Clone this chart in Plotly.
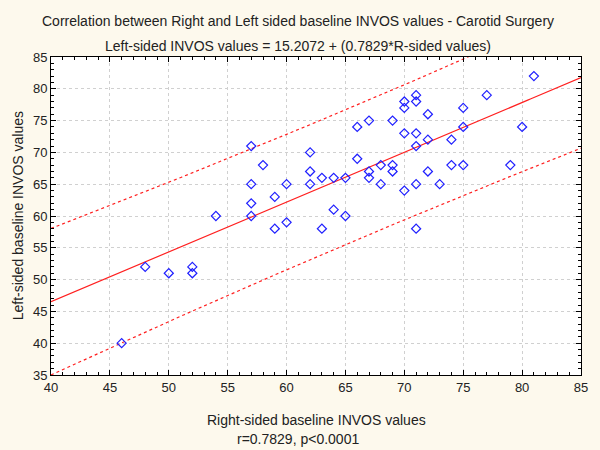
import numpy as np
import plotly.graph_objects as go

# Right-sided (x) and left-sided (y) baseline INVOS values
right_vals = [46, 48, 50, 52, 52, 54, 57, 58, 57, 60, 59, 57, 57, 59, 60,
              62, 62, 62, 63, 64, 65, 64, 65, 63, 66, 67, 69, 66, 67, 67,
              68, 69, 69, 68, 70, 70, 71, 71, 72, 70, 71, 71, 72, 72, 70,
              71, 71, 77, 75, 75, 74, 80, 74, 75, 79, 73, 81]
left_vals = [40, 52, 51, 52, 51, 60, 71, 68, 65, 65, 63, 62, 60, 58, 59,
             70, 67, 65, 66, 66, 66, 61, 60, 58, 74, 75, 75, 69, 67, 66,
             68, 68, 67, 65, 78, 77, 79, 78, 76, 73, 73, 71, 72, 67, 64,
             65, 58, 79, 77, 74, 72, 74, 68, 68, 68, 65, 82]

intercept = 15.2072
slope = 0.7829
x_range = [40, 85]
y_range = [35, 85]
x_ticks = [40, 45, 50, 55, 60, 65, 70, 75, 80, 85]
y_ticks = [35, 40, 45, 50, 55, 60, 65, 70, 75, 80, 85]

title_text = "Correlation between Right and Left sided baseline INVOS values - Carotid Surgery"
subtitle_text = "Left-sided INVOS values = 15.2072 + (0.7829*R-sided values)"
x_title = "Right-sided baseline INVOS values"
y_title = "Left-sided baseline INVOS values"
stat_text = "r=0.7829, p<0.0001"

xr = np.array(right_vals, dtype=float)
yl = np.array(left_vals, dtype=float)
n = len(xr)
xs = np.linspace(x_range[0], x_range[1], 200)
fit = intercept + slope * xs
resid = yl - (intercept + slope * xr)
s = np.sqrt(np.sum(resid ** 2) / (n - 2))
sxx = np.sum((xr - xr.mean()) ** 2)
t_val = 2.004
hw = t_val * s * np.sqrt(1 + 1 / n + (xs - xr.mean()) ** 2 / sxx)

red = "#FF2020"
fig = go.Figure()
fig.add_trace(go.Scatter(x=xs, y=fit + hw, mode="lines",
                         line=dict(color=red, width=1.2, dash="3px,3px"), hoverinfo="skip"))
fig.add_trace(go.Scatter(x=xs, y=fit - hw, mode="lines",
                         line=dict(color=red, width=1.2, dash="3px,3px"), hoverinfo="skip"))
fig.add_trace(go.Scatter(x=xs, y=fit, mode="lines",
                         line=dict(color=red, width=1.2), hoverinfo="skip"))
fig.add_trace(go.Scatter(x=xr, y=yl, mode="markers",
                         marker=dict(symbol="diamond-open", size=7, color="#2020FF",
                                     line=dict(width=1.2, color="#2020FF"))))

L, R, T, B = 51, 14, 57, 75
W, H = 600, 450
ph = H - T - B
pw = W - L - R

def py(p):
    return (H - B - p) / ph

def px(p):
    return (p - L) / pw

axis_common = dict(showline=True, linecolor="#000000", linewidth=1, mirror="allticks",
                   ticks="inside", ticklen=5, tickcolor="#000000",
                   showgrid=True, gridcolor="#D0D0D0", griddash="dot", gridwidth=1,
                   zeroline=False, tickfont=dict(family="Liberation Sans, Arial", size=13, color="#222222"))

fig.update_xaxes(range=x_range, tickvals=x_ticks, **axis_common,
                 minor=dict(dtick=1, ticks="inside", ticklen=3, tickcolor="#000000", showgrid=False))
fig.update_yaxes(range=y_range, tickvals=y_ticks, **axis_common,
                 minor=dict(dtick=1, ticks="inside", ticklen=3, tickcolor="#000000", showgrid=False))

font = dict(family="Liberation Sans, Arial", size=14, color="#222222")
annots = [
    dict(text=title_text, x=px(300), y=py(21), xref="paper", yref="paper", showarrow=False,
         xanchor="center", yanchor="middle", font=font),
    dict(text=subtitle_text, x=px(300), y=py(46), xref="paper", yref="paper", showarrow=False,
         xanchor="center", yanchor="middle", font=font),
    dict(text=x_title, x=0.5, y=py(420), xref="paper", yref="paper", showarrow=False,
         xanchor="center", yanchor="middle", font=font),
    dict(text=stat_text, x=px(300), y=py(439), xref="paper", yref="paper", showarrow=False,
         xanchor="center", yanchor="middle", font=font),
    dict(text=y_title, x=px(18), y=0.5, xref="paper", yref="paper", showarrow=False,
         xanchor="center", yanchor="middle", textangle=-90, font=font),
]

fig.update_layout(width=W, height=H, margin=dict(l=L, r=R, t=T, b=B),
                  paper_bgcolor="#FDF9ED", plot_bgcolor="#FFFFFF",
                  showlegend=False, annotations=annots)

fig.write_html("out.html", config={"displayModeBar": False},
               post_script="document.body.style.margin='0';document.body.style.overflow='hidden';")
